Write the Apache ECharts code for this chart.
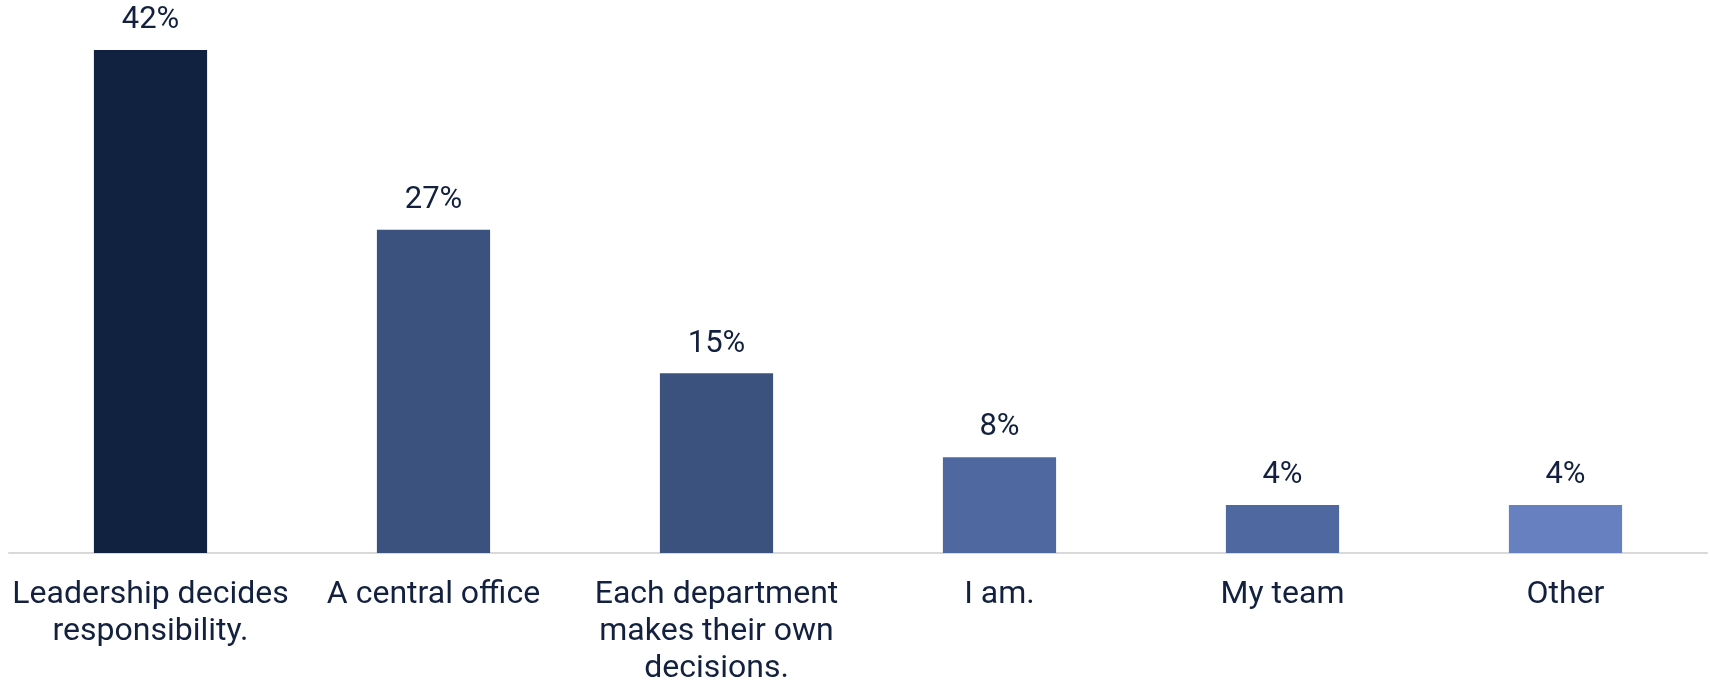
<!DOCTYPE html>
<html>
<head>
<meta charset="utf-8">
<script src="https://cdn.jsdelivr.net/npm/echarts@6/dist/echarts.min.js"></script>
<style>
  html, body { margin: 0; padding: 0; background: #ffffff; }
  #chart { width: 1710px; height: 687px; }
</style>
</head>
<body>
<div id="chart"></div>
<script>
// Who decides responsibility — share of responses
const categories = [
  'Leadership decides\nresponsibility.',
  'A central office',
  'Each department\nmakes their own\ndecisions.',
  'I am.',
  'My team',
  'Other'
];
const values = [42, 27, 15, 8, 4, 4];
const barColors = ['#112241', '#3b527f', '#3b527f', '#4f68a0', '#4f68a0', '#6680c0'];

const textColor = '#13213f';
const chart = echarts.init(document.getElementById('chart'));

chart.setOption({
  animation: false,
  backgroundColor: '#ffffff',
  grid: { left: 9, right: 3, top: 50, bottom: 132, containLabel: false },
  xAxis: {
    type: 'category',
    data: categories,
    axisLine: { show: true, lineStyle: { color: '#d9d9d9', width: 2 } },
    axisTick: { show: false },
    axisLabel: {
      interval: 0,
      margin: 23,
      color: textColor,
      fontFamily: 'Roboto',
      fontSize: 32,
      lineHeight: 37
    }
  },
  yAxis: {
    type: 'value',
    min: 0,
    max: 42,
    show: false,
    splitLine: { show: false }
  },
  series: [{
    type: 'bar',
    barWidth: '40%',
    data: values.map((v, i) => ({ value: v, itemStyle: { color: barColors[i] } })),
    label: {
      show: true,
      position: 'top',
      distance: 14,
      color: textColor,
      fontFamily: 'Roboto',
      fontSize: 31,
      lineHeight: 31,
      formatter: p => p.value + '%'
    }
  }]
});
</script>
</body>
</html>
